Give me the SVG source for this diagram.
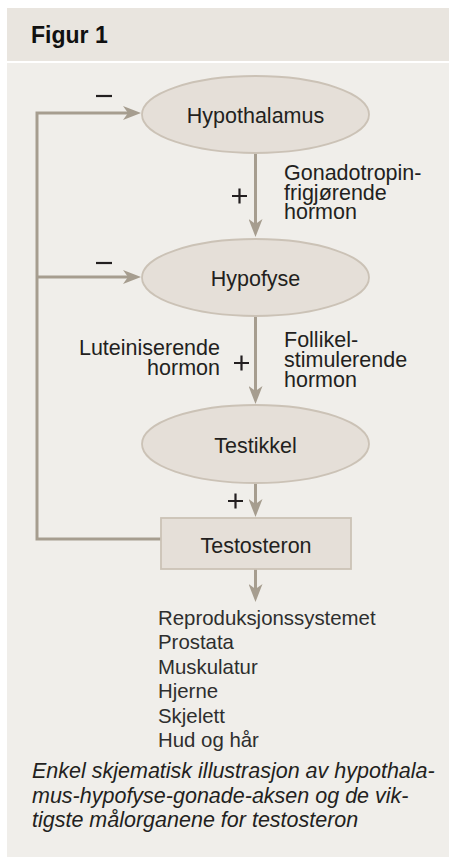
<svg xmlns="http://www.w3.org/2000/svg" width="449" height="867" viewBox="0 0 449 867">
<defs>
<style>
.t{font-family:"Liberation Sans",Arial,sans-serif;font-size:21.5px;fill:#231f20}
.l{font-family:"Liberation Sans",Arial,sans-serif;font-size:20.4px;fill:#2e2e2e}
.c{font-family:"Liberation Sans",Arial,sans-serif;font-size:21.5px;font-style:italic;fill:#231f20}
.node{fill:#e5dfd8;stroke:#cbc2b6;stroke-width:1.8}
.con{fill:none;stroke:#a69d8f;stroke-width:3}
.sign{stroke:#231f20;stroke-width:2.2}
</style>
<marker id="ah" markerUnits="userSpaceOnUse" markerWidth="18" markerHeight="14" viewBox="0 0 18 14" refX="5" refY="7" orient="auto">
<path d="M0,0 L18,7 L0,14 L5,7 Z" fill="#a69d8f"/>
</marker>
</defs>
<rect x="0" y="0" width="449" height="867" fill="#ffffff"/>
<rect x="7" y="8" width="442" height="53" fill="#e9e5df"/>
<rect x="7" y="63" width="442" height="794" fill="#f0eeea"/>
<text x="31" y="43" style="font-family:'Liberation Sans',Arial,sans-serif;font-size:23px;font-weight:bold;fill:#111">Figur 1</text>

<g id="connectors">
<path class="con" d="M161,539 H37 V113 H128" marker-end="url(#ah)"/>
<path class="con" d="M37,277 H128" marker-end="url(#ah)"/>
<path class="con" d="M255.5,153 V224" marker-end="url(#ah)"/>
<path class="con" d="M255.5,316 V391" marker-end="url(#ah)"/>
<path class="con" d="M255.5,483 V504" marker-end="url(#ah)"/>
<path class="con" d="M255.5,569 V589" marker-end="url(#ah)"/>
</g>

<g id="signs">
<line class="sign" x1="96" y1="96" x2="112" y2="96"/>
<line class="sign" x1="96" y1="263" x2="112" y2="263"/>
<path class="sign" d="M232,196 H247 M239.5,188.5 V203.5"/>
<path class="sign" d="M234,363 H249 M241.5,355.5 V370.5"/>
<path class="sign" d="M228,501 H243 M235.5,493.5 V508.5"/>
</g>

<g id="hypothalamus">
<ellipse class="node" cx="255.5" cy="114.5" rx="113.5" ry="38.5"/>
<text class="t" x="255.5" y="122.5" text-anchor="middle">Hypothalamus</text>
</g>
<g id="hypofyse">
<ellipse class="node" cx="255.5" cy="277.5" rx="113.5" ry="38.5"/>
<text class="t" x="255.5" y="285.5" text-anchor="middle">Hypofyse</text>
</g>
<g id="testikkel">
<ellipse class="node" cx="255.5" cy="444" rx="113.5" ry="39"/>
<text class="t" x="255.5" y="452.5" text-anchor="middle">Testikkel</text>
</g>
<g id="testosteron">
<rect class="node" x="161" y="518" width="190" height="51"/>
<text class="t" x="256" y="552.5" text-anchor="middle">Testosteron</text>
</g>

<g id="labels">
<text class="t" x="284" y="180"><tspan x="284">Gonadotropin-</tspan><tspan x="284" dy="19.5">frigjørende</tspan><tspan x="284" dy="19.5">hormon</tspan></text>
<text class="t" x="284" y="347"><tspan x="284">Follikel-</tspan><tspan x="284" dy="20">stimulerende</tspan><tspan x="284" dy="20">hormon</tspan></text>
<text class="t" x="220" y="355" text-anchor="end"><tspan x="220">Luteiniserende</tspan><tspan x="220" dy="20">hormon</tspan></text>
</g>

<g id="targets">
<text class="l" x="158" y="625"><tspan x="158">Reproduksjonssystemet</tspan><tspan x="158" dy="24.4">Prostata</tspan><tspan x="158" dy="24.4">Muskulatur</tspan><tspan x="158" dy="24.4">Hjerne</tspan><tspan x="158" dy="24.4">Skjelett</tspan><tspan x="158" dy="24.4">Hud og hår</tspan></text>
</g>

<g id="caption">
<text class="c" x="32" y="778"><tspan x="32">Enkel skjematisk illustrasjon av hypothala-</tspan><tspan x="32" dy="24.5">mus-hypofyse-gonade-aksen og de vik-</tspan><tspan x="32" dy="24.5">tigste målorganene for testosteron</tspan></text>
</g>
</svg>
